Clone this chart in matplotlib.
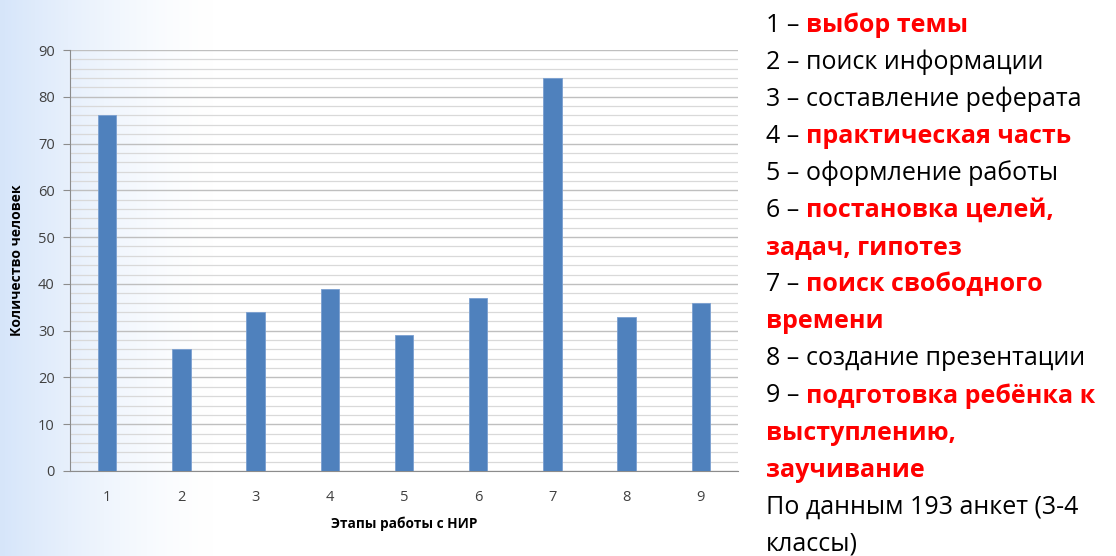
import matplotlib

matplotlib.use("Agg")
import matplotlib.pyplot as plt
import numpy as np

stages = ["1", "2", "3", "4", "5", "6", "7", "8", "9"]
people = [76, 26, 34, 39, 29, 37, 84, 33, 36]

legend_lines = [
    ("1 –", "выбор темы", True),
    ("2 –", "поиск информации", False),
    ("3 –", "составление реферата", False),
    ("4 –", "практическая часть", True),
    ("5 –", "оформление работы", False),
    ("6 –", "постановка целей,", True),
    ("", "задач, гипотез", True),
    ("7 –", "поиск свободного", True),
    ("", "времени", True),
    ("8 –", "создание презентации", False),
    ("9 –", "подготовка ребёнка к", True),
    ("", "выступлению,", True),
    ("", "заучивание", True),
    ("", "По данным 193 анкет (3-4", False),
    ("", "классы)", False),
]

plt.rcParams["font.family"] = ["Open Sans", "DejaVu Sans"]

W, H = 1116, 556
fig = plt.figure(figsize=(W / 100, H / 100), dpi=100)

# light blue gradient on the left edge
bg = fig.add_axes([0, 0, 1, 1])
grad = np.linspace(0, 1, 400)
alpha = np.clip(1 - grad / 0.19, 0, 1) ** 1.4
rgba = np.ones((1, 400, 4))
rgba[0, :, 0] = 1 - alpha * (1 - 0.84)
rgba[0, :, 1] = 1 - alpha * (1 - 0.90)
rgba[0, :, 2] = 1 - alpha * (1 - 0.98)
bg.imshow(rgba, aspect="auto", extent=[0, 1, 0, 1])
bg.set_axis_off()

ax = fig.add_axes([70 / W, 1 - 471 / H, 668 / W, 421 / H])
ax.set_facecolor("none")
x = np.arange(1, len(stages) + 1)
ax.bar(x, people, width=0.25, color="#4f81bd", edgecolor="#7a9fd0", linewidth=0.6, zorder=3)
ax.set_xlim(0.5, 9.5)
ax.set_ylim(0, 90)
ax.set_yticks(np.arange(0, 91, 10))
ax.set_yticks(np.arange(0, 91, 2), minor=True)
ax.set_xticks(x)
ax.set_xticklabels(stages)
ax.grid(axis="y", which="major", color="#bfbfbf", linewidth=1.0, zorder=0)
ax.grid(axis="y", which="minor", color="#d9d9d9", linewidth=0.9, zorder=0)
ax.tick_params(axis="y", which="major", length=5, color="#8c8c8c", labelsize=10.5, labelcolor="#404040", pad=6)
ax.tick_params(axis="y", which="minor", length=0)
ax.tick_params(axis="x", length=0, labelsize=10.5, labelcolor="#404040", pad=14)
for side in ("top", "right"):
    ax.spines[side].set_visible(False)
for side in ("left", "bottom"):
    ax.spines[side].set_color("#8c8c8c")
ax.set_xlabel("Этапы работы с НИР", fontsize=9.8, fontweight="bold", labelpad=8)
ax.set_ylabel("Количество человек", fontsize=10, fontweight="bold", labelpad=10)

# right-side legend text
y0 = 25
step = 37.1
fs = 18
renderer = fig.canvas.get_renderer()
for i, (prefix, body, red) in enumerate(legend_lines):
    yy = 1 - (y0 + i * step) / H
    if prefix:
        t = fig.text(766 / W, yy, prefix, fontsize=fs, color="black", va="center")
        ext = t.get_window_extent(renderer=renderer)
        xb = (ext.x1 + 7) / W
    else:
        xb = 766 / W
    fig.text(xb, yy, body, fontsize=fs, va="center",
             color="#ff0000" if red else "black",
             fontweight="bold" if red else "normal")

fig.savefig("out.png", dpi=100)
